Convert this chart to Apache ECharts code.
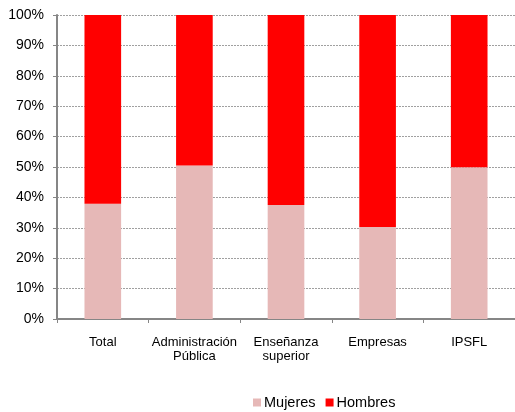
<!DOCTYPE html>
<html>
<head>
<meta charset="utf-8">
<script src="https://cdn.jsdelivr.net/npm/echarts@6/dist/echarts.min.js"></script>
<style>
  html, body { margin: 0; padding: 0; background: #fff; }
  #chart { width: 515px; height: 412px; }
</style>
</head>
<body>
<div id="chart"></div>
<script>
// Sectores de ejecución
const categories = ['Total', 'Administración\nPública', 'Enseñanza\nsuperior', 'Empresas', 'IPSFL'];
// Porcentaje de mujeres por sector
const mujeres = [37.9, 50.5, 37.5, 30.3, 49.9];
// Porcentaje de hombres (resto hasta 100 %)
const hombres = [62.1, 49.5, 62.5, 69.7, 50.1];

const chart = echarts.init(document.getElementById('chart'));
const font = 'Liberation Sans, Arial, sans-serif';

chart.setOption({
  animation: false,
  textStyle: { fontFamily: font },
  grid: { left: 57, width: 462, top: 15, height: 304, containLabel: false },
  legend: {
    top: 390,
    left: 248,
    itemWidth: 8,
    itemHeight: 8,
    itemGap: 10,
    icon: 'rect',
    textStyle: { fontSize: 14.5, color: '#000', fontFamily: font, padding: [0, 0, 0, -2] },
    data: ['Mujeres', 'Hombres']
  },
  xAxis: {
    type: 'category',
    data: categories,
    axisLine: { lineStyle: { color: '#868686', width: 2 } },
    axisTick: { show: true, length: 4, lineStyle: { color: '#868686' } },
    axisLabel: { color: '#000', fontSize: 13, margin: 16, lineHeight: 14, interval: 0 }
  },
  yAxis: {
    type: 'value',
    min: 0,
    max: 100,
    interval: 10,
    axisLine: { show: true, lineStyle: { color: '#868686', width: 2 } },
    axisTick: { show: true, length: 4, lineStyle: { color: '#868686' } },
    axisLabel: { color: '#000', fontSize: 14, margin: 13, formatter: '{value}%' },
    splitLine: { show: true, lineStyle: { color: '#a0a0a0', type: [2, 1], width: 1 } }
  },
  series: [
    {
      name: 'Mujeres',
      type: 'bar',
      stack: 'total',
      barWidth: '40%',
      itemStyle: { color: '#E6B8B7' },
      data: mujeres
    },
    {
      name: 'Hombres',
      type: 'bar',
      stack: 'total',
      barWidth: '40%',
      itemStyle: { color: '#FF0000' },
      data: hombres
    }
  ]
});
</script>
</body>
</html>
